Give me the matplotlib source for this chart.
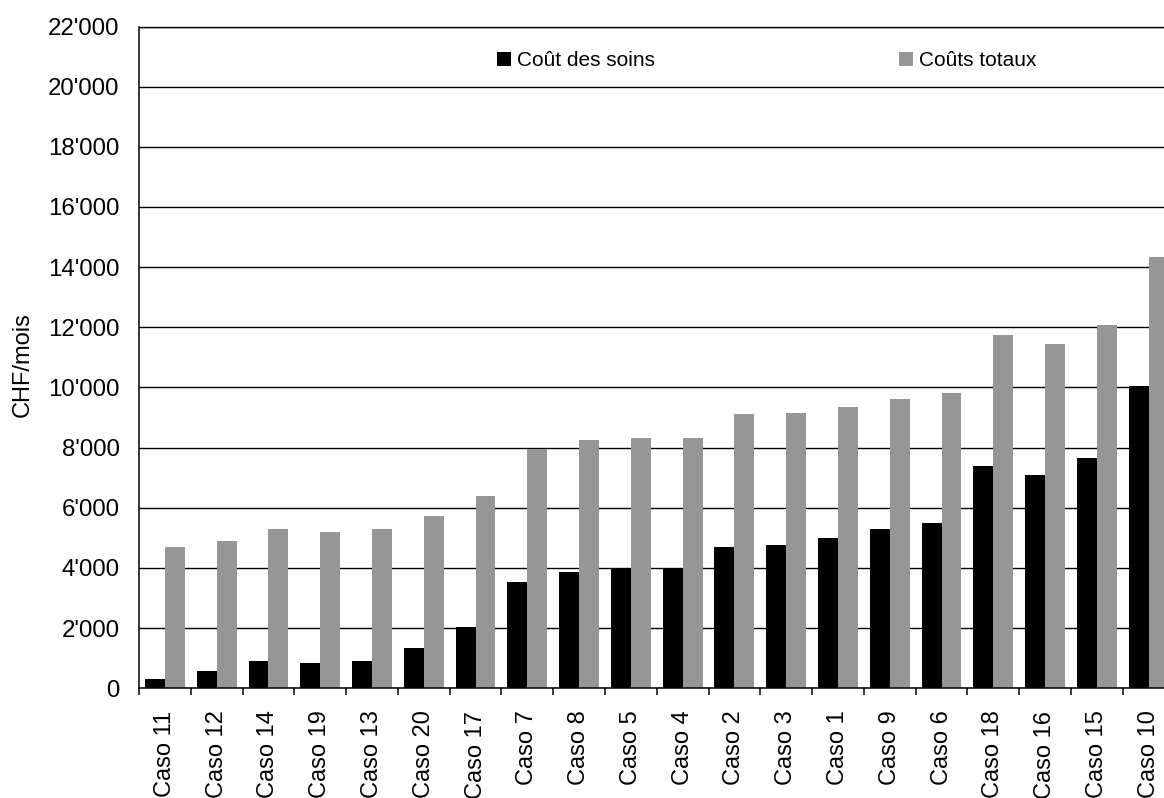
import numpy as np
import matplotlib
import matplotlib.pyplot as plt
from matplotlib.ticker import FuncFormatter

matplotlib.use('Agg')

plt.rcParams['font.family'] = ['Liberation Sans', 'DejaVu Sans']

# values (CHF/mois)
cases = ["Caso 11", "Caso 12", "Caso 14", "Caso 19", "Caso 13", "Caso 20", "Caso 17",
         "Caso 7", "Caso 8", "Caso 5", "Caso 4", "Caso 2", "Caso 3", "Caso 1",
         "Caso 9", "Caso 6", "Caso 18", "Caso 16", "Caso 15", "Caso 10"]
cout_soins = [310, 590, 920, 850, 920, 1340, 2040,
              3540, 3880, 3970, 3970, 4710, 4780, 4980,
              5280, 5480, 7400, 7100, 7670, 10060]
couts_totaux = [4710, 4910, 5280, 5210, 5280, 5740, 6380,
                7950, 8240, 8310, 8310, 9110, 9140, 9340,
                9610, 9800, 11730, 11460, 12090, 14350]
y_ticks = list(range(0, 22001, 2000))
series_names = ["Coût des soins", "Coûts totaux"]

W, H = 1164, 798
fig = plt.figure(figsize=(W / 100, H / 100), dpi=100)
ax = fig.add_axes([139 / W, 1 - 688.3 / H, (1174.5 - 139) / W, (688.3 - 26.5) / H])

x = np.arange(len(cases))
bw = 0.385
ax.bar(x - bw / 2, cout_soins, width=bw, color="#000000", label=series_names[0], zorder=2)
ax.bar(x + bw / 2, couts_totaux, width=bw, color="#969696", label=series_names[1], zorder=2)

ax.set_xlim(-0.5, len(cases) - 0.5)
ax.set_ylim(0, 22000)
ax.set_yticks(y_ticks)
ax.yaxis.set_major_formatter(FuncFormatter(lambda v, p: f"{int(v):,}".replace(",", "'")))
ax.tick_params(axis='y', length=0, pad=14, labelsize=17.3)
ax.yaxis.grid(True, color="#000000", linewidth=1.0, zorder=0)
ax.set_axisbelow(True)

# ticks between categories, labels at the centres
ax.set_xticks(np.arange(len(cases) + 1) - 0.5)
ax.set_xticklabels([])
ax.tick_params(axis='x', which='major', direction='out', length=5, width=1.1, color="#000000")
ax.set_xticks(x, minor=True)
ax.set_xticklabels(cases, minor=True, rotation=90, fontsize=17)
ax.tick_params(axis='x', which='minor', length=0, pad=16)

for s in ['left', 'bottom', 'top']:
    ax.spines[s].set_color("#000000")
ax.spines['left'].set_linewidth(1.1)
ax.spines['bottom'].set_linewidth(1.1)
ax.spines['top'].set_linewidth(1.0)
ax.spines['right'].set_visible(False)

ax.set_ylabel("CHF/mois", fontsize=17)
ax.yaxis.set_label_coords((34 - 139) / (1174.5 - 139), (688.3 - 365) / (688.3 - 26.5))

ax.legend(loc='center left', bbox_to_anchor=(497 / W, 1 - 61 / H), bbox_transform=fig.transFigure,
          ncol=2, frameon=False, fontsize=15, borderpad=0, borderaxespad=0,
          handlelength=0.67, handleheight=0.67, handletextpad=0.29, columnspacing=11.7)

fig.savefig("out.png", dpi=100)
